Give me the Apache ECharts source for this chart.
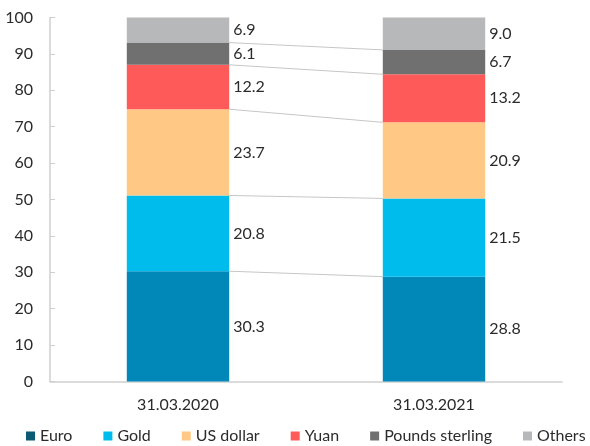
<!DOCTYPE html>
<html><head><meta charset="utf-8">
<script src="https://cdn.jsdelivr.net/npm/echarts@6/dist/echarts.min.js"></script>
<style>html,body{margin:0;padding:0;background:#fff}#c{width:590px;height:446px}</style>
</head><body><div id="c"></div>
<script>
var categories = ['31.03.2020', '31.03.2021'];
var seriesNames = ['Euro', 'Gold', 'US dollar', 'Yuan', 'Pounds sterling', 'Others'];
var euro = [30.3, 28.8];
var gold = [20.8, 21.5];
var usd = [23.7, 20.9];
var yuan = [12.2, 13.2];
var gbp = [6.1, 6.7];
var others = [6.9, 9.0];
var yTicks = [0, 10, 20, 30, 40, 50, 60, 70, 80, 90, 100];

var values = [euro, gold, usd, yuan, gbp, others];
var barColors = ['#0187b8', '#00bcec', '#ffc985', '#ff5a5a', '#6f706f', '#b7b8b9'];
var legendColors = ['#0b5b73', '#00bcec', '#ffc985', '#ff5a5a', '#6f706f', '#b7b8b9'];
var FONT = 'Lato';
var BAR_FRAC = 0.4;

var boundaries = [];
var cum = [0, 0];
for (var s = 0; s < values.length - 1; s++) {
  cum = [cum[0] + values[s][0], cum[1] + values[s][1]];
  boundaries.push([cum[0], cum[1]]);
}

var series = values.map(function (arr, i) {
  return {
    name: seriesNames[i], type: 'bar', stack: 'total', barWidth: (BAR_FRAC * 100) + '%',
    itemStyle: { color: barColors[i] },
    label: { show: true, position: 'right', distance: 4, color: '#2b2b2b', fontFamily: FONT, fontSize: 16,
      formatter: function (p) { return p.value.toFixed(1); } },
    data: arr, z: 2
  };
});

series.push({
  type: 'custom', name: 'connectors', z: 1, silent: true,
  data: boundaries,
  encode: { x: -1, y: [0, 1] },
  renderItem: function (params, api) {
    var v1 = api.value(0), v2 = api.value(1);
    var p1 = api.coord([0, v1]);
    var p2 = api.coord([1, v2]);
    var half = api.size([1, 0])[0] * BAR_FRAC / 2;
    return { type: 'line', shape: { x1: p1[0] + half, y1: p1[1], x2: p2[0] - half, y2: p2[1] },
      style: { stroke: '#c6c6c6', lineWidth: 1 } };
  }
});

var chart = echarts.init(document.getElementById('c'), null, { renderer: 'canvas' });
chart.setOption({
  animation: false,
  textStyle: { fontFamily: FONT },
  grid: { left: 50, right: 28, top: 17.5, bottom: 64.5 },
  legend: {
    bottom: 2, left: 26, width: 580, padding: 0, itemWidth: 9, itemHeight: 9, itemGap: 31, icon: 'rect',
    textStyle: { fontFamily: FONT, fontSize: 16, color: '#2b2b2b' },
    data: seriesNames.map(function (n, i) { return { name: n, itemStyle: { color: legendColors[i] } }; })
  },
  xAxis: {
    type: 'category', data: categories,
    axisLine: { lineStyle: { color: '#cfcfcf', width: 1.5 } },
    axisTick: { show: false },
    axisLabel: { color: '#2b2b2b', fontFamily: FONT, fontSize: 16, margin: 15 }
  },
  yAxis: {
    type: 'value', min: yTicks[0], max: yTicks[yTicks.length - 1], interval: yTicks[1] - yTicks[0],
    splitLine: { show: false },
    axisLine: { show: true, lineStyle: { color: '#cfcfcf', width: 1.5 } },
    axisTick: { show: true, inside: true, length: 5, lineStyle: { color: '#cfcfcf' } },
    axisLabel: { color: '#2b2b2b', fontFamily: FONT, fontSize: 16, margin: 17 }
  },
  series: series
});
</script></body></html>
